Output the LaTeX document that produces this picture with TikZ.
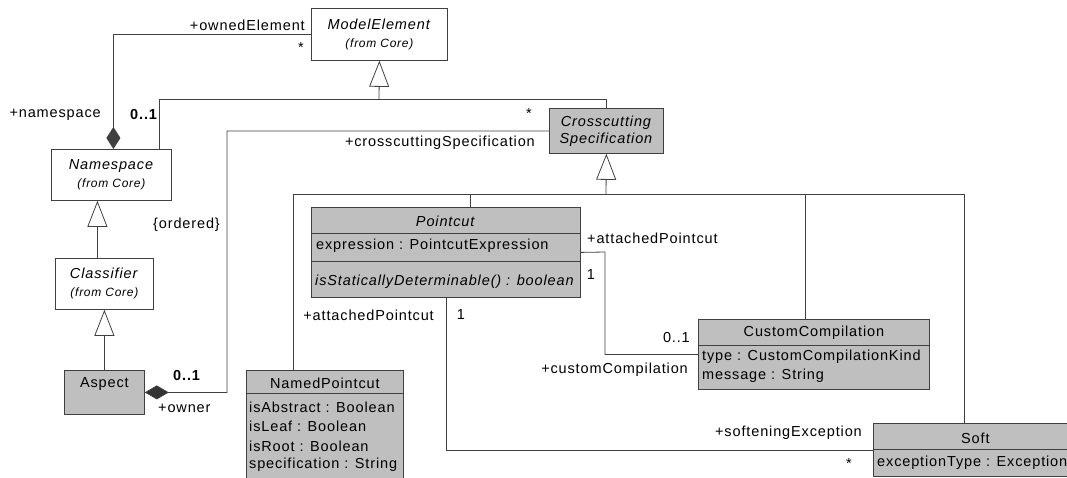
\documentclass[tikz,border=0pt]{standalone}
\usepackage{fontspec}
\setmainfont{Liberation Sans}[LetterSpace=6]
\usetikzlibrary{positioning,arrows.meta,calc}

\begin{document}
\begin{tikzpicture}[
  x=1pt, y=-1pt,
  every node/.style={font=\fontsize{14.5}{17}\selectfont, inner sep=0pt},
  umlclass/.style={draw=black!75, line width=0.8pt, fill=white, anchor=north west, align=center},
  aopclass/.style={umlclass, fill=gray!50},
  attr/.style={anchor=west},
  role/.style={},
  mult/.style={font=\fontsize{14.5}{17}\selectfont\bfseries},
  assoc/.style={draw=black!75, line width=0.8pt},
  gen/.style={assoc, -{Triangle[open, length=26pt, width=20pt]}},
  comp/.style={assoc, {Diamond[length=22pt, width=14pt]}-},
  aspcomp/.style={assoc, {Diamond[length=24pt, width=14pt, fill=black!80]}-},
]
  \useasboundingbox (0,0) rectangle (1067,477);
  \clip (0,0) rectangle (1067,477);

  % classes from Core
  \node[umlclass, minimum width=136, minimum height=52] (me) at (311,8)
    {\textit{ModelElement}\\[1pt]{\fontsize{12}{13}\selectfont\itshape (from Core)}};
  \node[umlclass, minimum width=120, minimum height=51] (ns) at (51,149)
    {\textit{Namespace}\\[1pt]{\fontsize{12}{13}\selectfont\itshape (from Core)}};
  \node[umlclass, minimum width=98, minimum height=51] (cl) at (55,258)
    {\textit{Classifier}\\[1pt]{\fontsize{12}{13}\selectfont\itshape (from Core)}};

  % aspect classes
  \node[aopclass, minimum width=80, minimum height=44] (asp) at (64,370) {};
  \node (asp-name) at ($(asp.north)+(0,14)$) {Aspect};
  \node[aopclass, minimum width=114, minimum height=45] (cs) at (549,108)
    {\textit{Crosscutting}\\[0pt]\textit{Specification}};

  \node[aopclass, minimum width=269, minimum height=90] (pc) at (311,207) {};
  \node (pc-name) at ($(pc.north)+(0,14)$) {\textit{Pointcut}};
  \draw[assoc] ($(pc.north west)+(0,26)$) -- ($(pc.north east)+(0,26)$);
  \node[attr] (pc-expr) at ($(pc.north west)+(5,39)$) {expression : PointcutExpression};
  \draw[assoc] ($(pc.north west)+(0,54)$) -- ($(pc.north east)+(0,54)$);
  \node[attr] (pc-op) at ($(pc.north west)+(4,75)$) {\textit{isStaticallyDeterminable() : boolean}};

  \node[aopclass, minimum width=157, minimum height=110] (np) at (246,370) {};
  \node (np-name) at ($(np.north)+(0,13)$) {NamedPointcut};
  \draw[assoc] ($(np.north west)+(0,23)$) -- ($(np.north east)+(0,23)$);
  \node[attr] (np-abs) at ($(np.north west)+(3,37)$) {isAbstract : Boolean};
  \node[attr] (np-leaf) at ($(np.north west)+(3,56)$) {isLeaf : Boolean};
  \node[attr] (np-root) at ($(np.north west)+(3,76)$) {isRoot : Boolean};
  \node[attr] (np-spec) at ($(np.north west)+(3,95)$) {specification : String};

  \node[aopclass, minimum width=231, minimum height=70] (cc) at (698,319) {};
  \node (cc-name) at ($(cc.north)+(0,14)$) {CustomCompilation};
  \draw[assoc] ($(cc.north west)+(0,26)$) -- ($(cc.north east)+(0,26)$);
  \node[attr] (cc-type) at ($(cc.north west)+(4,38)$) {type : CustomCompilationKind};
  \node[attr] (cc-msg) at ($(cc.north west)+(4,57)$) {message : String};

  \node[aopclass, minimum width=204, minimum height=53] (soft) at (873,423) {};
  \node (soft-name) at ($(soft.north)+(0,15)$) {Soft};
  \draw[assoc] ($(soft.north west)+(0,26)$) -- ($(soft.north east)+(0,26)$);
  \node[attr] (soft-exc) at ($(soft.north west)+(4,40)$) {exceptionType : Exception};

  % generalizations
  \coordinate (mebus) at (379,99);
  \draw[assoc] ([xshift=48]ns.north) |- (mebus);
  \draw[assoc] (cs.north) |- (mebus);
  \draw[gen] (mebus) -- (me.south);
  \draw[gen] ([xshift=-7]cl.north) -- ([xshift=-14]ns.south);
  \draw[gen] (asp.north) -- (cl.south);

  \coordinate (csbus) at (606,194);
  \draw[assoc] ([xshift=-32]np.north) |- (csbus);
  \draw[assoc] ([xshift=24]pc.north) |- (csbus);
  \draw[assoc] ([xshift=-9]cc.north) |- (csbus);
  \draw[assoc] ([xshift=-11]soft.north) |- (csbus);
  \draw[gen] (csbus) -- (cs.south);

  % associations
  \draw[comp] ([xshift=2]ns.north) |- (me.west);
  \node[role, anchor=east] (l-owned) at (305,25) {+ownedElement};
  \node[role] (m-owned) at (301,48) {*};
  \node[role, anchor=east] (l-ns) at (101,115) {+namespace};
  \node[mult, anchor=west] (m-ns) at (130,115) {0..1};

  \coordinate (ordbend) at (227,131);
  \draw[aspcomp] (asp.east) -| (ordbend) -- (cs.west);
  \node[role] (m-cs) at (529,114) {*};
  \node[role, anchor=east] (l-cs) at (535,143) {+crosscuttingSpecification};
  \node[role, anchor=east] (l-ord) at (220,225) {\{ordered\}};
  \node[mult, anchor=west] (m-asp) at (173,376) {0..1};
  \node[role, anchor=west] (l-owner) at (158,408) {+owner};

  \coordinate (ccbend) at (605,252);
  \draw[assoc] (pc.east) -- (ccbend) |- (cc.west);
  \node[role, anchor=west] (l-apc1) at (587,238) {+attachedPointcut};
  \node[role] (m-apc1) at (591,275) {1};
  \node[role, anchor=east] (m-cc) at (690,338) {0..1};
  \node[role, anchor=east] (l-cc) at (688,370) {+customCompilation};

  \draw[assoc] (pc.south) |- (soft.west);
  \node[role, anchor=east] (l-apc2) at (434,315) {+attachedPointcut};
  \node[role] (m-apc2) at (461,315) {1};
  \node[role, anchor=east] (l-soft) at (862,433) {+softeningException};
  \node[role] (m-soft) at (849,464) {*};
\end{tikzpicture}
\end{document}
